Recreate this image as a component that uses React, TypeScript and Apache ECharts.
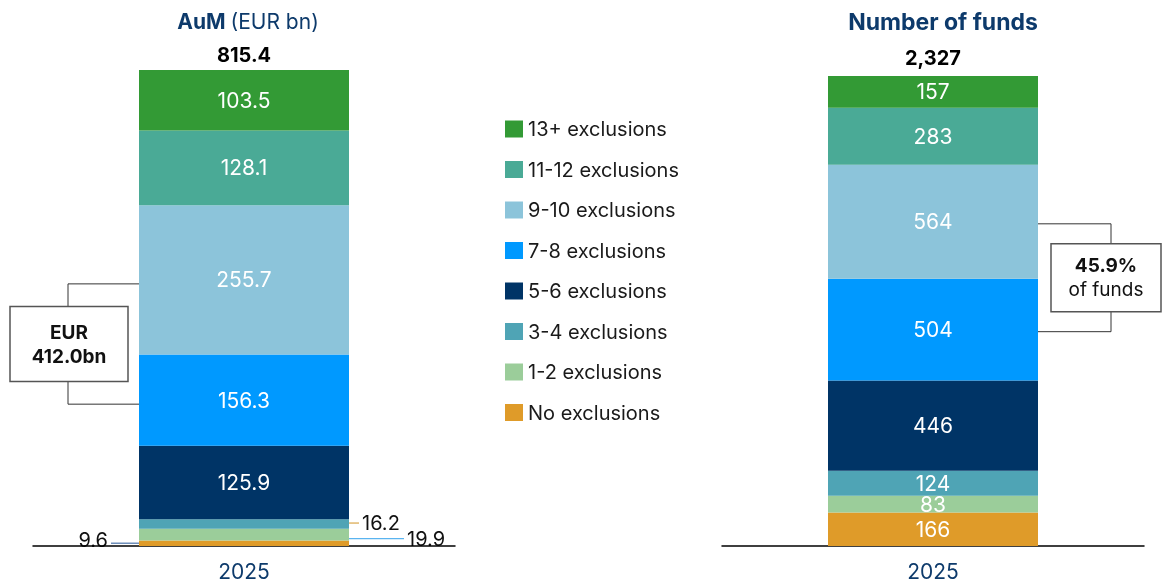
import React, { useEffect, useRef } from "react";
import * as echarts from "echarts";

const categories = ["2025"];
const seriesNames = [
  "No exclusions",
  "1-2 exclusions",
  "3-4 exclusions",
  "5-6 exclusions",
  "7-8 exclusions",
  "9-10 exclusions",
  "11-12 exclusions",
  "13+ exclusions",
];
const seriesColors = ["#df9b29", "#9bcd9a", "#4fa4b5", "#003466", "#0099ff", "#8cc4da", "#4aaa96", "#339a35"];
const aumValues = [9.6, 19.9, 16.2, 125.9, 156.3, 255.7, 128.1, 103.5];
const fundValues = [166, 83, 124, 446, 504, 564, 283, 157];
const aumTotalLabel = "815.4";
const fundTotalLabel = "2,327";
const aumBracketText = ["EUR", "412.0bn"];
const fundBracketText = ["45.9%", "of funds"];
// outside labels for small AuM segments: index, side, line colour
const aumOutside = [
  { idx: 0, side: "left", color: "#4a72a8", len: 28, dy: 0 },
  { idx: 2, side: "right", color: "#d9a548", len: 10, dy: -1 },
  { idx: 1, side: "right", color: "#5ab4f0", len: 55, dy: 4 },
];

const FONT = "Inter, 'Liberation Sans', Arial, sans-serif";
const NAVY = "#0d3a6b";

export default function App() {
  const ref = useRef<HTMLDivElement>(null);
  useEffect(() => {
    if (!ref.current) return;
    const chart = echarts.init(ref.current, undefined, { renderer: "svg" });
    const aumSum = aumValues.reduce((a, b) => a + b, 0);
    const fundSum = fundValues.reduce((a, b) => a + b, 0);

    const mkSeries = (vals: number[], idx: number, stack: string, showSmall: boolean) =>
      vals.map((v, i) => ({
        name: seriesNames[i],
        type: "bar",
        stack,
        xAxisIndex: idx,
        yAxisIndex: idx,
        barWidth: 210,
        itemStyle: { color: seriesColors[i] },
        label: {
          show: showSmall || v > 50,
          position: "inside",
          color: "#fff",
          fontSize: 21,
          fontFamily: FONT,
        },
        data: [v],
      }));

    const totalSeries = (idx: number, stack: string, text: string, dist: number) => ({
      name: "total" + idx,
      type: "bar",
      stack,
      xAxisIndex: idx,
      yAxisIndex: idx,
      barWidth: 210,
      data: [0],
      itemStyle: { color: "transparent" },
      label: {
        show: true,
        position: "top",
        distance: dist,
        formatter: () => text,
        color: "#000",
        fontWeight: "bold",
        fontSize: 20,
        fontFamily: FONT,
      },
    });

    const xAxisCommon = {
      type: "category",
      data: categories,
      axisLine: { lineStyle: { color: "#000", width: 1.5 } },
      axisTick: { show: false },
      axisLabel: { color: NAVY, fontSize: 21, fontFamily: FONT, margin: 15 },
    };
    const yAxisCommon = { type: "value", min: 0, show: false, splitLine: { show: false } };

    const option: any = {
      animation: false,
      title: [
        {
          text: "{b|AuM} {r|(EUR bn)}",
          left: 243,
          top: 6,
          textAlign: "center",
          textStyle: {
            rich: {
              b: { fontWeight: "bold", fontSize: 21, color: NAVY, fontFamily: FONT },
              r: { fontWeight: "normal", fontSize: 21, color: NAVY, fontFamily: FONT },
            },
          },
        },
        {
          text: "Number of funds",
          left: 938,
          top: 5,
          textAlign: "center",
          textStyle: { fontWeight: "bold", fontSize: 23, color: NAVY, fontFamily: FONT },
        },
      ],
      legend: {
        orient: "vertical",
        left: 505,
        top: 119,
        padding: 0,
        itemWidth: 18,
        itemHeight: 17,
        itemGap: 20.5,
        icon: "rect",
        selectedMode: false,
        data: [...seriesNames].reverse(),
        textStyle: { fontSize: 20, color: "#1a1a1a", fontFamily: FONT },
      },
      grid: [
        { left: 33, width: 422, top: 70, bottom: 39 },
        { left: 722, width: 422, top: 76, bottom: 39 },
      ],
      xAxis: [
        { ...xAxisCommon, gridIndex: 0 },
        { ...xAxisCommon, gridIndex: 1 },
      ],
      yAxis: [
        { ...yAxisCommon, gridIndex: 0, max: aumSum },
        { ...yAxisCommon, gridIndex: 1, max: fundSum },
      ],
      series: [
        ...mkSeries(aumValues, 0, "aum", false),
        totalSeries(0, "aum", aumTotalLabel, 5),
        ...mkSeries(fundValues, 1, "fund", true),
        totalSeries(1, "fund", fundTotalLabel, 8),
      ],
    };
    chart.setOption(option);

    // annotations positioned via the axes
    const px = (g: number, v: number) => chart.convertToPixel({ gridIndex: g } as any, [0, v]) as number[];
    const cum = (vals: number[]) => {
      const c: number[] = [0];
      vals.forEach((v) => c.push(c[c.length - 1] + v));
      return c;
    };
    const aumCum = cum(aumValues);
    const fundCum = cum(fundValues);
    const half = 105;
    const graphics: any[] = [];
    const lineStyle = { stroke: "#333", lineWidth: 1, fill: null };

    // small outside labels
    aumOutside.forEach((o) => {
      const mid = px(0, (aumCum[o.idx] + aumCum[o.idx + 1]) / 2);
      const cx = mid[0];
      const y = mid[1] + o.dy;
      const edge = o.side === "left" ? cx - half : cx + half;
      const end = o.side === "left" ? edge - o.len : edge + o.len;
      graphics.push({
        type: "line",
        shape: { x1: edge, y1: y, x2: end, y2: y },
        style: { stroke: o.color, lineWidth: 1.2 },
      });
      graphics.push({
        type: "text",
        x: o.side === "left" ? end - 3 : end + 3,
        y: o.side === "left" ? y - 3 : y,
        style: {
          text: String(aumValues[o.idx]),
          font: `20px ${FONT}`,
          fill: "#111",
          textAlign: o.side === "left" ? "right" : "left",
          textVerticalAlign: "middle",
        },
      });
    });

    // brackets
    const bracket = (
      g: number,
      cumv: number[],
      i1: number,
      i2: number,
      side: string,
      xv: number,
      boxX: number,
      boxW: number,
      boxH: number,
      texts: string[],
      boldSecond: boolean,
      dy: number
    ) => {
      const top = px(g, (cumv[i2] + cumv[i2 + 1]) / 2);
      const bot = px(g, (cumv[i1] + cumv[i1 + 1]) / 2);
      const edge = side === "left" ? top[0] - half : top[0] + half;
      const yt = top[1] + dy;
      const yb = bot[1] + dy;
      const cy = (yt + yb) / 2;
      const boxTop = cy - boxH / 2;
      const boxBot = cy + boxH / 2;
      graphics.push({
        type: "polyline",
        shape: { points: [[edge, yt], [xv, yt], [xv, boxTop]] },
        style: lineStyle,
      });
      graphics.push({
        type: "polyline",
        shape: { points: [[xv, boxBot], [xv, yb], [edge, yb]] },
        style: lineStyle,
      });
      graphics.push({
        type: "rect",
        shape: { x: boxX, y: boxTop, width: boxW, height: boxH },
        style: { fill: "#fff", stroke: "#555", lineWidth: 1.5 },
      });
      graphics.push({
        type: "text",
        x: boxX + boxW / 2,
        y: cy - 12,
        style: {
          text: texts[0],
          font: `bold 19px ${FONT}`,
          fill: "#111",
          textAlign: "center",
          textVerticalAlign: "middle",
        },
      });
      graphics.push({
        type: "text",
        x: boxX + boxW / 2,
        y: cy + 12,
        style: {
          text: texts[1],
          font: `${boldSecond ? "bold " : ""}19px ${FONT}`,
          fill: "#111",
          textAlign: "center",
          textVerticalAlign: "middle",
        },
      });
    };
    bracket(0, aumCum, 4, 5, "left", 68, 10, 118, 75, aumBracketText, true, 4);
    bracket(1, fundCum, 4, 5, "right", 1111, 1051, 110, 68, fundBracketText, false, 2);

    chart.setOption({ graphic: graphics });

    return () => chart.dispose();
  }, []);
  return <div ref={ref} style={{ position: "fixed", left: 0, top: 0, width: 1162, height: 585 }} />;
}
